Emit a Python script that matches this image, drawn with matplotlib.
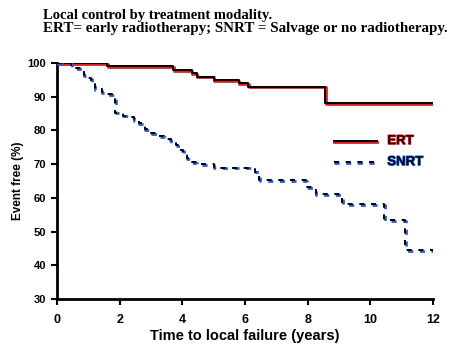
import numpy as np
import matplotlib.pyplot as plt
import matplotlib.patheffects as pe

# Kaplan-Meier style step data
ert_t = [0, 1.6, 3.7, 4.3, 4.45, 5.0, 5.8, 6.1, 8.55, 12]
ert_v = [100, 99, 98, 97, 96, 95, 94, 93, 88, 88]

snrt_t = [0, 0.45, 0.6, 0.8, 0.85, 1.0, 1.1, 1.2, 1.43, 1.6, 1.8, 1.85, 2.1, 2.35,
          2.45, 2.6, 2.8, 3.0, 3.2, 3.42, 3.63, 3.8, 3.93, 4.03, 4.14, 4.3, 4.46,
          5.0, 6.3, 6.45, 7.95, 8.25, 9.1, 10.43, 11.1, 12]
snrt_v = [100, 99, 98.5, 97.7, 96.4, 95.5, 94.3, 92.2, 91.5, 90.7, 90, 85.3, 84.4, 84,
          83.1, 82.1, 80.4, 79.3, 78.3, 77.4, 76.6, 75.7, 74.2, 73, 71.7, 70.7, 70,
          69, 67.8, 65.3, 63.3, 61.1, 58.2, 53.4, 44.5, 44.5]

xticks = [0, 2, 4, 6, 8, 10, 12]
yticks = [30, 40, 50, 60, 70, 80, 90, 100]

sans = 'Liberation Sans'
serif = 'Liberation Serif'
red = '#e02020'
blue = '#2a5ad8'
dash = (0, (2.6, 3.4))

ert_fx = [pe.Stroke(offset=(0.4, -0.6), linewidth=2.0, foreground=red), pe.Normal()]
snrt_fx = [pe.Stroke(offset=(0.4, -0.6), linewidth=2.0, foreground=blue), pe.Normal()]

fig = plt.figure(figsize=(4.56, 3.54), dpi=100)
ax = fig.add_axes([0.125, 0.155, 0.825, 0.667])

ax.step(ert_t, ert_v, where='post', color='black', lw=1.4, path_effects=ert_fx, zorder=3)
ax.step(snrt_t, snrt_v, where='post', color='black', lw=1.4, linestyle=dash,
        path_effects=snrt_fx, zorder=3)

# legend drawn by hand (axes coords)
ax.plot([0.735, 0.85], [0.669, 0.669], transform=ax.transAxes, color='black', lw=1.4,
        path_effects=ert_fx)
ax.plot([0.735, 0.85], [0.58, 0.58], transform=ax.transAxes, color='black', lw=1.4,
        linestyle=dash, path_effects=snrt_fx)
ax.text(0.878, 0.669, 'ERT', transform=ax.transAxes, va='center', ha='left',
        fontsize=9.5, fontweight='bold', family=sans, color='#300000',
        path_effects=[pe.withStroke(linewidth=0.9, foreground=red)])
ax.text(0.878, 0.58, 'SNRT', transform=ax.transAxes, va='center', ha='left',
        fontsize=9.5, fontweight='bold', family=sans, color='#000820',
        path_effects=[pe.withStroke(linewidth=0.9, foreground=blue)])

ax.set_xlim(0, 12)
ax.set_ylim(30, 100)
ax.set_xticks(xticks)
ax.set_yticks(yticks)
ax.set_xticklabels([str(v) for v in xticks], fontsize=9, fontweight='bold', family=sans)
ax.set_yticklabels([str(v) for v in yticks], fontsize=8, fontweight='bold', family=sans)
ax.tick_params(direction='out', length=4, width=1.5)
ax.tick_params(axis='x', pad=7)
ax.tick_params(axis='y', pad=4)
for s in ['top', 'right']:
    ax.spines[s].set_visible(False)
for s in ['left', 'bottom']:
    ax.spines[s].set_linewidth(2)

ax.set_xlabel('Time to local failure (years)', fontsize=10.5, fontweight='bold', family=sans, labelpad=2)
ax.set_ylabel('Event free (%)', fontsize=8.5, fontweight='bold', family=sans, labelpad=2)

fig.text(0.094, 0.9455, 'Local control by treatment modality.', fontsize=10.5,
         fontweight='bold', family=serif, va='baseline', ha='left')
fig.text(0.094, 0.9088, 'ERT= early radiotherapy; SNRT = Salvage or no radiotherapy.',
         fontsize=10.8, fontweight='bold', family=serif, va='baseline', ha='left')

fig.savefig('out.png', dpi=100)
